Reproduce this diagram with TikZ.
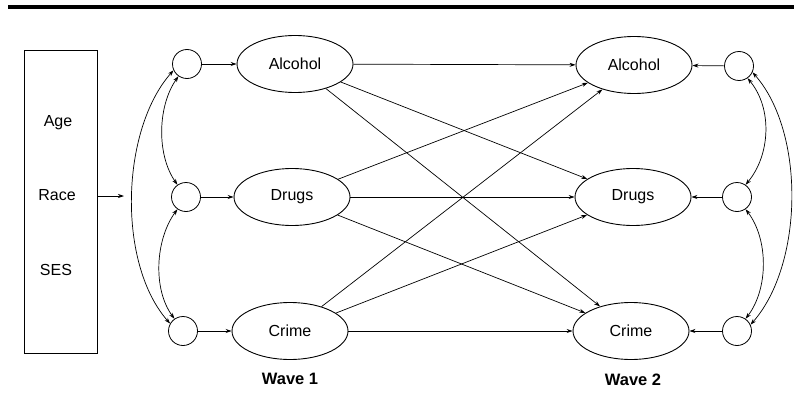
\documentclass[tikz,border=0pt]{standalone}
\usepackage{fontspec}
\setmainfont{Liberation Sans}
\usetikzlibrary{shapes.geometric,arrows.meta}

\tikzset{
  var/.style={draw, ellipse, line width=0.9pt, minimum width=116pt, minimum height=57pt, inner sep=0pt, font=\fontsize{16}{18}\selectfont},
  res/.style={draw, circle, line width=0.8pt, minimum size=29pt, inner sep=0pt},
  path/.style={-{Stealth[length=6pt,width=4pt]}, line width=0.7pt},
  cov/.style={{Stealth[length=6pt,width=4pt]}-{Stealth[length=6pt,width=4pt]}, line width=0.7pt},
  lbl/.style={font=\fontsize{16}{18}\selectfont},
  wave/.style={font=\bfseries\fontsize{16.5}{19}\selectfont}
}

\begin{document}
\begin{tikzpicture}[x=1pt, y=-1pt]
            \useasboundingbox (0,0) rectangle (794,404);
            \draw[line width=3.2pt] (8,7) -- (794,7);

            % covariates
            \node[draw, line width=0.7pt, minimum width=73pt, minimum height=303pt, inner sep=0pt] (box) at (60.5,201.5) {};
            \node[lbl] (age) at (58,123) {Age};
            \node[lbl] (race) at (57,195) {Race};
            \node[lbl] (ses) at (56,270) {SES};
            \coordinate (covend) at (124,196);
            \draw[path] (box.east |- covend) -- (covend);

            % wave 1
            \node[res] (eA1) at (187,64) {};
            \node[res] (eD1) at (186,197) {};
            \node[res] (eC1) at (183,331) {};
            \node[var] (alcA) at (295,64) {Alcohol};
            \node[var] (drugA) at (292,197) {Drugs};
            \node[var] (crimeA) at (290,331) {Crime};
            \node[wave] (w1) at (290,379) {Wave 1};

            % wave 2
            \node[res] (eA2) at (739,66) {};
            \node[res] (eD2) at (737,197) {};
            \node[res] (eC2) at (737,331) {};
            \node[var] (alcB) at (634,65) {Alcohol};
            \node[var] (drugB) at (633,197) {Drugs};
            \node[var] (crimeB) at (631,331) {Crime};
            \node[wave] (w2) at (633,380) {Wave 2};

            % residuals
            \draw[path] (eA1) -- (alcA);
            \draw[path] (eD1) -- (drugA);
            \draw[path] (eC1) -- (crimeA);
            \draw[path] (eA2) -- (alcB);
            \draw[path] (eD2) -- (drugB);
            \draw[path] (eC2) -- (crimeB);

            % residual covariances
            \draw[cov] (eA1.235) .. controls +(-21,30) and +(-21,-30) .. (eD1.125);
            \draw[cov] (eD1.235) .. controls +(-22,30) and +(-22,-30) .. (eC1.125);
            \draw[cov] (eA1.205) .. controls +(-53,60) and +(-53,-60) .. (eC1.150);
            \draw[cov] (eA2.-55) .. controls +(25,30) and +(25,-30) .. (eD2.55);
            \draw[cov] (eD2.-55) .. controls +(23,30) and +(23,-30) .. (eC2.55);
            \draw[cov] (eA2.-25) .. controls +(53,60) and +(53,-60) .. (eC2.25);

            % cross-lagged paths
            \foreach \a in {alcA, drugA, crimeA}
              \foreach \b in {alcB, drugB, crimeB}
                \draw[path] (\a) -- (\b);
        \end{tikzpicture}
\end{document}
